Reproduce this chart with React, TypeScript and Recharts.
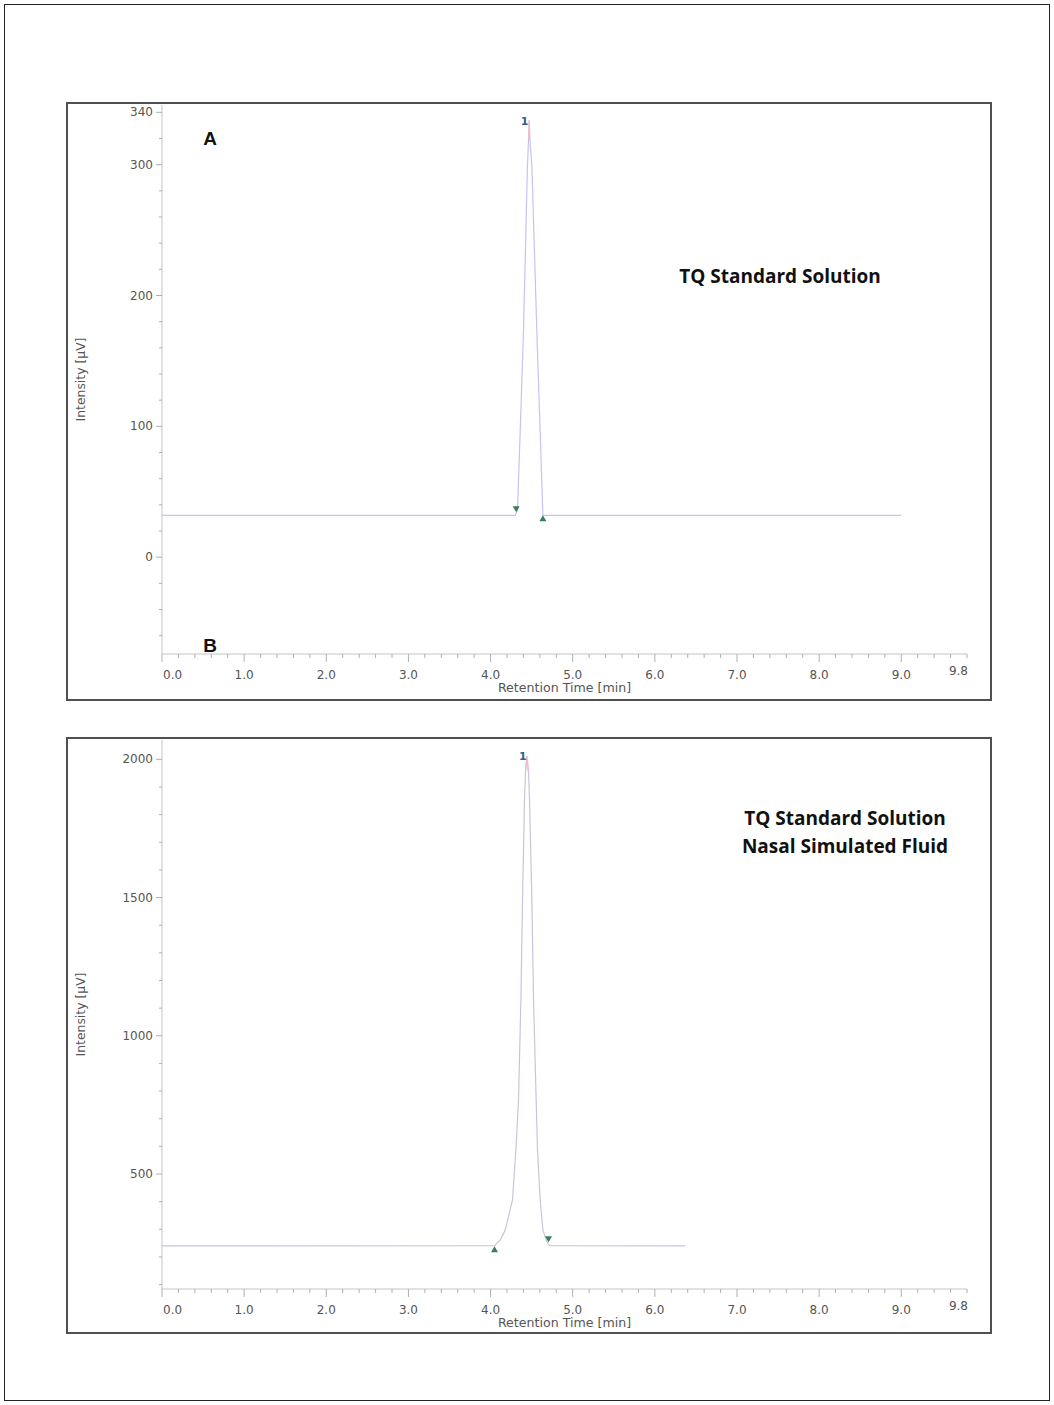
import React from 'react';
import { ComposedChart, Line, Scatter, XAxis, YAxis, Label } from 'recharts';

// chromatogram A: TQ standard solution
const timeA = [0, 4.3, 4.328, 4.36, 4.4, 4.449, 4.463, 4.47, 4.477, 4.503, 4.564, 4.604, 4.637, 9.0];
const signalA = [32, 32, 36, 95, 171, 299, 320, 334, 320, 299, 171, 95, 32, 32];
const apexTimeA = [4.463, 4.47, 4.477];
const apexSignalA = [320, 334, 320];
const markTimeA = [4.312, 4.637];
const markSignalA = [36.7, 29.8];
const markDirA = ['down', 'up'];
const peakNoA = [{ t: 4.413, v: 333, text: '1' }];

// chromatogram B: TQ standard solution in nasal simulated fluid
const timeB = [0, 4.05, 4.077, 4.117, 4.178, 4.267, 4.308, 4.34, 4.369, 4.389, 4.413, 4.425, 4.442, 4.462, 4.474, 4.503, 4.523, 4.555, 4.571, 4.604, 4.637, 4.677, 4.7, 4.72, 6.37];
const signalB = [240, 241, 250, 261, 297, 406, 587, 768, 1129, 1491, 1853, 1954, 2012, 1954, 1853, 1491, 1129, 768, 587, 406, 297, 261, 248, 241, 240];
const apexTimeB = [4.425, 4.442, 4.462];
const apexSignalB = [1954, 2012, 1954];
const markTimeB = [4.048, 4.705];
const markSignalB = [227.6, 263.8];
const markDirB = ['up', 'down'];
const peakNoB = [{ t: 4.393, v: 2012, text: '1' }];

// axes
const xMajor = [0, 1, 2, 3, 4, 5, 6, 7, 8, 9];
const xTicks = Array.from({ length: 50 }, (_, i) => +(i * 0.2).toFixed(1));
const yMajorA = [0, 100, 200, 300, 340];
const yTicksA = Array.from({ length: 21 }, (_, i) => -60 + i * 20);
const yMajorB = [500, 1000, 1500, 2000];
const yTicksB = Array.from({ length: 20 }, (_, i) => 100 + i * 100);

const toRows = (t: number[], v: number[]) => t.map((x, i) => ({ t: x, v: v[i] }));
const toMarks = (t: number[], v: number[], d: string[]) => t.map((x, i) => ({ t: x, v: v[i], dir: d[i] }));

const AXIS = '#c4c4c4';
const TICK_FONT = 'DejaVu Sans, Verdana, sans-serif';

const XTick = (props: any) => {
  const { x, y, payload } = props;
  const v = payload.value;
  const major = xMajor.some((m) => Math.abs(m - v) < 1e-6);
  const last = Math.abs(v - 9.8) < 1e-6;
  let anchor = 'middle';
  let tx = x;
  let ty = y + 25;
  if (v === 0) { anchor = 'start'; tx = x + 1; }
  if (last) { anchor = 'end'; tx = x + 1; ty = y + 21; }
  return (
    <g>
      <line x1={x} x2={x} y1={y} y2={y + (major ? 8 : 4)} stroke="#b0b0b0" />
      {(major || last) && (
        <text x={tx} y={ty} textAnchor={anchor} fontSize={12} fill="#555" fontFamily={TICK_FONT}>
          {v.toFixed(1)}
        </text>
      )}
    </g>
  );
};

const makeYTick = (majors: number[]) => (props: any) => {
  const { x, y, payload } = props;
  const major = majors.includes(payload.value);
  return (
    <g>
      <line x1={x - (major ? 6 : 3)} x2={x} y1={y} y2={y} stroke="#b0b0b0" />
      {major && (
        <text x={x - 9} y={y + 4} textAnchor="end" fontSize={12} fill="#555" fontFamily={TICK_FONT}>
          {payload.value}
        </text>
      )}
    </g>
  );
};

const Triangle = (props: any) => {
  const { cx, cy, payload } = props;
  const w = 3.5;
  const h = 6;
  const pts = payload.dir === 'up'
    ? `${cx - w},${cy + h / 2} ${cx + w},${cy + h / 2} ${cx},${cy - h / 2}`
    : `${cx - w},${cy - h / 2} ${cx + w},${cy - h / 2} ${cx},${cy + h / 2}`;
  return <polygon points={pts} fill="#3b7d5a" />;
};

const PeakNo = (props: any) => {
  const { cx, cy, payload } = props;
  return (
    <text x={cx} y={cy + 4} textAnchor="middle" fontSize={11} fontWeight="bold" fill="#2f5f8a" fontFamily={TICK_FONT}>
      {payload.text}
    </text>
  );
};

const xLabel = ({ viewBox }: any) => (
  <text x={viewBox.x + viewBox.width / 2} y={viewBox.y + 38} textAnchor="middle" fontSize={12.6} fill="#555" fontFamily={TICK_FONT}>
    Retention Time [min]
  </text>
);

const yLabel = ({ viewBox }: any) => {
  const cx = 19;
  const cy = viewBox.y + viewBox.height / 2;
  return (
    <text x={cx} y={cy} transform={`rotate(-90, ${cx}, ${cy})`} textAnchor="middle" fontSize={12.4} fill="#555" fontFamily={TICK_FONT}>
      Intensity [µV]
    </text>
  );
};

const bold = { fontFamily: '"Open Sans", Lato, sans-serif', fontWeight: 700, fontSize: 19, fill: '#111' } as const;
const letter = { fontFamily: '"Liberation Sans", Arial, sans-serif', fontWeight: 700, fontSize: 19, fill: '#111' } as const;

type PanelProps = {
  top: number;
  height: number;
  rows: { t: number; v: number }[];
  apex: { t: number; v: number }[];
  marks: { t: number; v: number; dir: string }[];
  peakNo: { t: number; v: number; text: string }[];
  domain: [number, number];
  yTicks: number[];
  yMajor: number[];
  color: string;
  children?: React.ReactNode;
};

const Panel = ({ top, height, rows, apex, marks, peakNo, domain, yTicks, yMajor, color, children }: PanelProps) => (
  <div style={{ position: 'absolute', left: 66, top, width: 926, height }}>
    <ComposedChart width={926} height={height} margin={{ top: 3, right: 25, bottom: 0, left: 0 }}>
      <XAxis
        type="number"
        dataKey="t"
        domain={[0, 9.8]}
        ticks={xTicks}
        interval={0}
        tickSize={0}
        tickMargin={0}
        tick={<XTick />}
        axisLine={{ stroke: AXIS }}
        height={height === 598 ? 46 : 45}
        allowDataOverflow
      >
        <Label content={xLabel} />
      </XAxis>
      <YAxis
        type="number"
        dataKey="v"
        domain={domain}
        ticks={yTicks}
        interval={0}
        tickSize={0}
        tickMargin={0}
        tick={makeYTick(yMajor)}
        axisLine={{ stroke: AXIS }}
        width={96}
        allowDataOverflow
      >
        <Label content={yLabel} />
      </YAxis>
      <Line data={rows} dataKey="v" type="linear" stroke={color} strokeWidth={1.2} dot={false} isAnimationActive={false} />
      <Line data={apex} dataKey="v" type="linear" stroke="#f0bccf" strokeWidth={1.3} dot={false} isAnimationActive={false} />
      <Scatter data={marks} dataKey="v" shape={<Triangle />} isAnimationActive={false} />
      <Scatter data={peakNo} dataKey="v" shape={<PeakNo />} isAnimationActive={false} />
      {children}
    </ComposedChart>
  </div>
);

const frame = (top: number, height: number): React.CSSProperties => ({
  position: 'absolute',
  left: 66,
  top,
  width: 926,
  height,
  boxSizing: 'border-box',
  border: '2px solid #505050',
});

export default function App() {
  return (
    <div style={{ position: 'absolute', left: 0, top: 0, width: 1054, height: 1405, background: '#fff' }}>
      <div style={{ position: 'absolute', left: 4, top: 4, width: 1046, height: 1397, boxSizing: 'border-box', border: '1px solid #222' }} />
      <div style={frame(102, 599)} />
      <div style={frame(737, 597)} />
      <Panel
        top={102}
        height={598}
        rows={toRows(timeA, signalA)}
        apex={toRows(apexTimeA, apexSignalA)}
        marks={toMarks(markTimeA, markSignalA, markDirA)}
        peakNo={peakNoA}
        domain={[-74, 345.6]}
        yTicks={yTicksA}
        yMajor={yMajorA}
        color="#c4c4f2"
      >
        <text x={144} y={43} textAnchor="middle" {...letter}>A</text>
        <text x={144} y={550} textAnchor="middle" {...letter}>B</text>
        <text x={714} y={181} textAnchor="middle" {...bold}>TQ Standard Solution</text>
      </Panel>
      <Panel
        top={737}
        height={597}
        rows={toRows(timeB, signalB)}
        apex={toRows(apexTimeB, apexSignalB)}
        marks={toMarks(markTimeB, markSignalB, markDirB)}
        peakNo={peakNoB}
        domain={[84, 2070]}
        yTicks={yTicksB}
        yMajor={yMajorB}
        color="#c6c6da"
      >
        <text x={779} y={88} textAnchor="middle" {...bold}>TQ Standard Solution</text>
        <text x={779} y={116} textAnchor="middle" {...bold}>Nasal Simulated Fluid</text>
      </Panel>
    </div>
  );
}
